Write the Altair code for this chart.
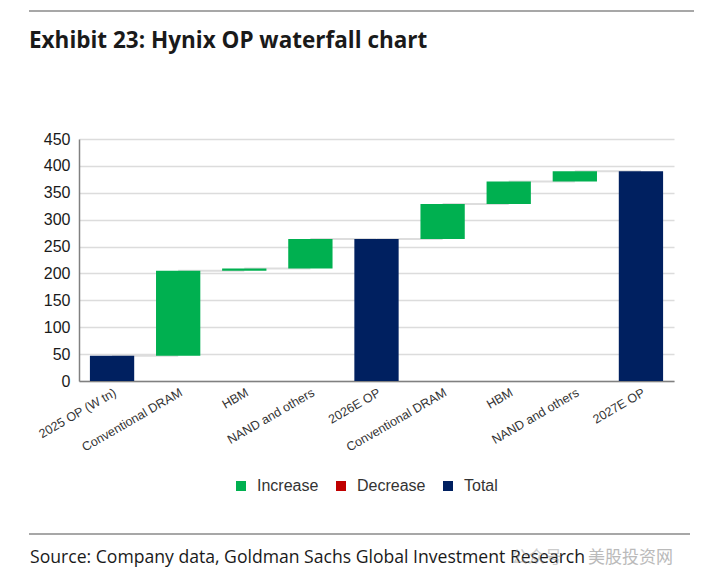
import json
import altair as alt
import pandas as pd

# waterfall data (W tn)
labels = ["2025 OP (W tn)", "Conventional DRAM", "HBM", "NAND and others", "2026E OP",
          "Conventional DRAM", "HBM", "NAND and others", "2027E OP"]
kinds = ["Total", "Increase", "Increase", "Increase", "Total",
         "Increase", "Increase", "Increase", "Total"]
values = [47, 158, 4, 55, None, 65, 42, 19, None]   # None -> running total

legend_names = ["Increase", "Decrease", "Total"]
legend_colors = ["#00B050", "#C00000", "#002060"]

title_text = "Exhibit 23: Hynix OP waterfall chart"
source_text = "Source: Company data, Goldman Sachs Global Investment Research"

# running totals -> start / end of each bar
rows = []
running = 0
for i, (k, v) in enumerate(zip(kinds, values)):
    if k == "Total":
        if v is not None:
            running = v
        start, end = 0, running
    elif k == "Increase":
        start, end = running, running + v
        running = end
    else:
        start, end = running, running - v
        running = end
    rows.append({"idx": i, "start": start, "end": end, "kind": k})
bars_df = pd.DataFrame(rows)

conn_df = pd.DataFrame({
    "idx": bars_df["idx"][:-1].values,
    "nxt": bars_df["idx"][1:].values,
    "level": bars_df["end"][:-1].values,
})

label_expr = json.dumps(labels) + "[datum.value]"

x_enc = alt.X("idx:O", title=None,
              scale=alt.Scale(domain=list(range(len(labels))), paddingInner=0.33, paddingOuter=0.165),
              axis=alt.Axis(labelExpr=label_expr, labelAngle=-30, labelFontSize=12.5,
                            labelFont="Liberation Sans", labelColor="#333333", ticks=False,
                            domainColor="#808080", domainWidth=1.5, labelPadding=5, grid=False))
y_scale = alt.Scale(domain=[0, 450], nice=False)
y_axis = alt.Axis(values=list(range(0, 451, 50)), ticks=False, labelFontSize=16, labelOverlap=False,
                  labelFont="Liberation Sans", labelColor="#1a1a1a", labelPadding=9,
                  gridColor="#dcdcdc", gridWidth=1.5, domainColor="#808080", domainWidth=1.5)

connectors = alt.Chart(conn_df).mark_rule(color="#dddddd", strokeWidth=2).encode(
    x=x_enc,
    x2="nxt:O",
    y=alt.Y("level:Q", title=None, scale=y_scale, axis=y_axis),
)

bars = alt.Chart(bars_df).mark_bar().encode(
    x=x_enc,
    y=alt.Y("start:Q", title=None, scale=y_scale, axis=y_axis),
    y2="end:Q",
    color=alt.Color("kind:N", scale=alt.Scale(domain=legend_names, range=legend_colors),
                    legend=alt.Legend(title=None, orient="none", legendX=154, legendY=339,
                                      direction="horizontal", symbolType="square", symbolSize=100,
                                      symbolStrokeWidth=0, labelFontSize=16,
                                      labelFont="Liberation Sans", labelColor="#333333",
                                      columnPadding=14, labelOffset=8)),
)

def text_layer(txt, x, y, **kw):
    return alt.Chart(pd.DataFrame({"t": [txt]})).mark_text(align="left", baseline="alphabetic", **kw).encode(
        x=alt.value(x), y=alt.value(y), text="t:N")

title = text_layer(title_text, -50, -91, font="Open Sans", fontSize=22.5, fontWeight="bold", color="#1a1a1a")
source = text_layer(source_text, -49, 424, font="Open Sans", fontSize=17.6, color="#1a1a1a")
mark1 = text_layer("公众号", 432, 424, font="Noto Sans CJK SC", fontSize=17, color="#999999", opacity=0.5)
mark2 = text_layer("美股投资网", 509, 424, font="Noto Sans CJK SC", fontSize=17, color="#aaaaaa", opacity=0.8)

rule_df = pd.DataFrame({"a": [0]})
top_rule = alt.Chart(rule_df).mark_rule(color="#8a8a8a", strokeWidth=1.5).encode(
    x=alt.value(-50), x2=alt.value(617), y=alt.value(-128))
bottom_rule = alt.Chart(rule_df).mark_rule(color="#8a8a8a", strokeWidth=1.5).encode(
    x=alt.value(-50), x2=alt.value(611), y=alt.value(395))

chart = alt.layer(connectors, bars, title, source, mark1, mark2, top_rule, bottom_rule).properties(
    width=595, height=242,
    autosize=alt.AutoSizeParams(type="none"),
    padding={"left": 71, "top": 131, "right": 20, "bottom": 193},
    background="white",
).configure_view(strokeWidth=0)

chart.save("out.html", embed_options={"renderer": "svg", "actions": False})
